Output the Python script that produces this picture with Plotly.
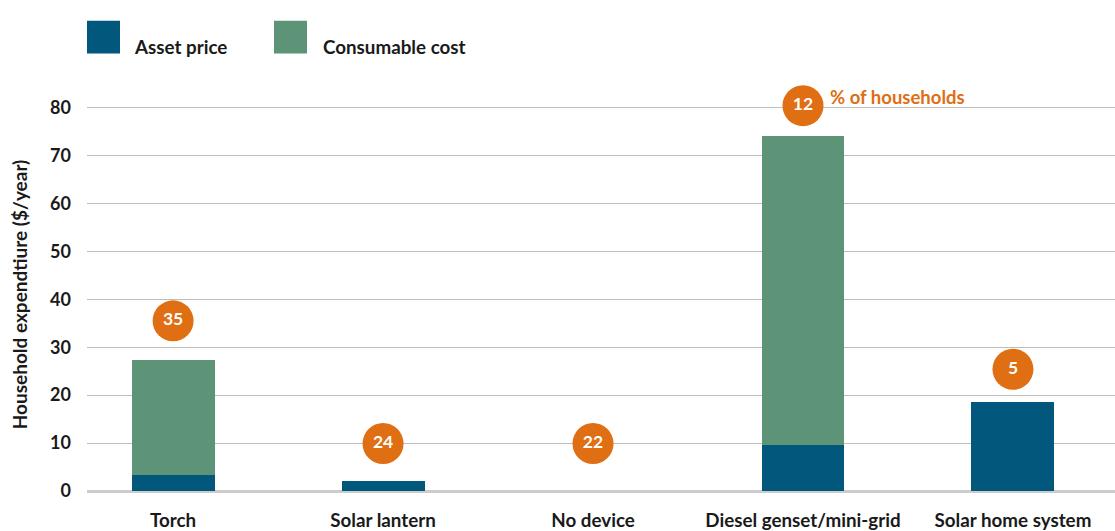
import plotly.graph_objects as go

categories = ["Torch", "Solar lantern", "No device", "Diesel genset/mini-grid", "Solar home system"]
asset_price = [3.3, 2.0, 0.0, 9.7, 18.6]
consumable_cost = [24.0, 0.0, 0.0, 64.3, 0.0]
household_share = [35, 24, 22, 12, 5]
share_label_y = [35.5, 9.9, 9.9, 80.4, 25.4]
y_ticks = [0, 10, 20, 30, 40, 50, 60, 70, 80]

BLUE = "#02577D"
GREEN = "#5D9377"
ORANGE = "#E06E12"
TXT = "#1a1a1a"
FONT = "Lato"

fig = go.Figure()
fig.add_trace(go.Bar(x=categories, y=asset_price, name="Asset price",
                     marker=dict(color=BLUE, line=dict(width=0)), width=0.395))
fig.add_trace(go.Bar(x=categories, y=consumable_cost, name="Consumable cost",
                     marker=dict(color=GREEN, line=dict(width=0)), width=0.395))
fig.add_trace(go.Scatter(x=categories, y=share_label_y, mode="markers+text",
                         marker=dict(size=41, color=ORANGE, line=dict(width=0)),
                         text=[f"<b>{v}</b>" for v in household_share],
                         textposition="middle center",
                         textfont=dict(color="white", size=17.5, family=FONT),
                         cliponaxis=False, showlegend=False, hoverinfo="skip"))

fig.add_annotation(x=categories[3], y=share_label_y[3], xref="x", yref="y",
                   text="<b>% of households</b>", showarrow=False,
                   xanchor="left", yanchor="middle", xshift=25, yshift=9,
                   font=dict(color=ORANGE, size=18.5, family=FONT))

# legend drawn manually
legend_items = [("Asset price", BLUE, 87, 135), ("Consumable cost", GREEN, 274, 324)]
W, H = 1115, 531
ml, mr, mt, mb = 87, 0, 98, 36
pw, ph = W - ml - mr, H - mt - mb
for label, color, sx, tx in legend_items:
    x0 = (sx - ml) / pw
    x1 = (sx + 33 - ml) / pw
    y1 = (H - mb - 20) / ph
    y0 = (H - mb - 53) / ph
    fig.add_shape(type="rect", xref="paper", yref="paper", x0=x0, x1=x1, y0=y0, y1=y1,
                  fillcolor=color, line=dict(width=0))
    fig.add_annotation(xref="paper", yref="paper", x=(tx - ml) / pw, y=(H - mb - 46) / ph,
                       text=f"<b>{label}</b>", showarrow=False, xanchor="left", yanchor="middle",
                       xshift=-3,
                       font=dict(size=18.8, color=TXT, family=FONT))

fig.update_layout(
    barmode="stack",
    width=W, height=H,
    margin=dict(l=ml, r=mr, t=mt, b=mb),
    plot_bgcolor="white", paper_bgcolor="white",
    showlegend=False,
    font=dict(family=FONT, size=17, color=TXT),
    xaxis=dict(range=[-0.41, 4.486], showgrid=False, showline=False, ticks="",
               tickfont=dict(size=18.8, family=FONT, color=TXT),
               ticklabelstandoff=16,
               tickvals=categories, ticktext=[f"<b>{c}</b>" for c in categories]),
    yaxis=dict(range=[0, 82], tickvals=y_ticks, ticktext=[f"<b>{t}</b>" for t in y_ticks],
               showgrid=True, gridcolor="#BDBDBD", gridwidth=1.3,
               zeroline=True, zerolinecolor="#CCCCCC", zerolinewidth=3,
               showline=False, ticks="", ticklabelstandoff=15,
               tickfont=dict(size=18, family=FONT, color=TXT),
               title=dict(text="<b>Household expendtiure ($/year)</b>", standoff=17,
                          font=dict(size=19, family=FONT, color=TXT))),
)

fig.write_html("out.html", config={"displayModeBar": False},
               post_script="document.body.style.margin='0';document.body.style.overflow='hidden';")
